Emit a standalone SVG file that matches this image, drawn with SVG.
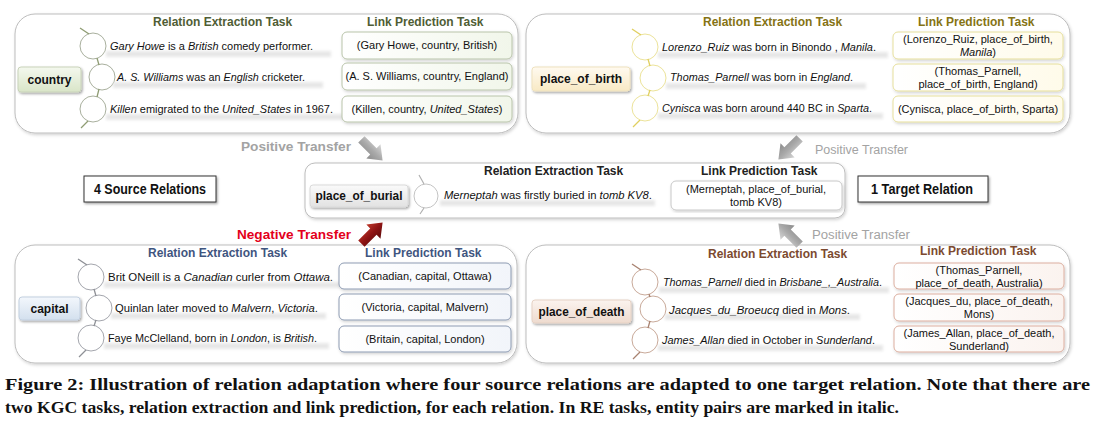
<svg xmlns="http://www.w3.org/2000/svg" width="1099" height="423" viewBox="0 0 1099 423">
<style>
.hd{font-family:"Liberation Sans",Arial,sans-serif;font-weight:bold;font-size:12px}
.s{font-family:"Liberation Sans",Arial,sans-serif;font-size:11px;fill:#111}
.lp{font-family:"Liberation Sans",Arial,sans-serif;font-size:11px;fill:#111;text-anchor:middle}
.nd{font-family:"Liberation Sans",Arial,sans-serif;font-weight:bold;font-size:12px;fill:#111;text-anchor:middle}
.i{font-style:italic}
.panel{fill:#fff;stroke:#bdbdbd;stroke-width:1}
.band{fill:#e4e4e4;opacity:.9}
.big{font-family:"Liberation Sans",Arial,sans-serif;font-weight:bold;font-size:14px;fill:#111;text-anchor:middle}
.cap{font-family:"Liberation Serif","Times New Roman",serif;font-weight:bold;font-size:17.5px;fill:#111}
.pt{font-family:"Liberation Sans",Arial,sans-serif;font-size:12px;fill:#a3a3a3}
</style>
<defs>
<filter id="sh" x="-20%" y="-20%" width="140%" height="160%"><feDropShadow dx="1.2" dy="1.5" stdDeviation="1" flood-color="#000" flood-opacity="0.35"/></filter>
<filter id="psh" x="-5%" y="-5%" width="110%" height="115%"><feDropShadow dx="1" dy="1.5" stdDeviation="1.5" flood-color="#000" flood-opacity="0.18"/></filter>
<filter id="bl" x="-10%" y="-100%" width="120%" height="300%"><feGaussianBlur stdDeviation="1.6"/></filter>
<linearGradient id="gG" x1="0" y1="0" x2="0" y2="1"><stop offset="0" stop-color="#f4f8ee"/><stop offset="1" stop-color="#d9e5c8"/></linearGradient>
<linearGradient id="gY" x1="0" y1="0" x2="0" y2="1"><stop offset="0" stop-color="#fffaf0"/><stop offset="1" stop-color="#f8e9c4"/></linearGradient>
<linearGradient id="gB" x1="0" y1="0" x2="0" y2="1"><stop offset="0" stop-color="#f3f7fc"/><stop offset="1" stop-color="#d3e0ee"/></linearGradient>
<linearGradient id="gR" x1="0" y1="0" x2="0" y2="1"><stop offset="0" stop-color="#fbf3ee"/><stop offset="1" stop-color="#eedbcf"/></linearGradient>
<linearGradient id="gK" x1="0" y1="0" x2="0" y2="1"><stop offset="0" stop-color="#fafafa"/><stop offset="1" stop-color="#e2e2e2"/></linearGradient>
<linearGradient id="lG" x1="0" y1="0" x2="1" y2="0"><stop offset="0" stop-color="#fff"/><stop offset="1" stop-color="#f1f6ea"/></linearGradient>
<linearGradient id="lY" x1="0" y1="0" x2="1" y2="0"><stop offset="0" stop-color="#fff"/><stop offset="1" stop-color="#fffbea"/></linearGradient>
<linearGradient id="lB" x1="0" y1="0" x2="1" y2="0"><stop offset="0" stop-color="#fff"/><stop offset="1" stop-color="#f2f5fa"/></linearGradient>
<linearGradient id="lR" x1="0" y1="0" x2="1" y2="0"><stop offset="0" stop-color="#fff"/><stop offset="1" stop-color="#fbf3ef"/></linearGradient>
<linearGradient id="arG" x1="0" y1="0" x2="0" y2="1"><stop offset="0" stop-color="#d6d6d6"/><stop offset="0.5" stop-color="#a9a9a9"/><stop offset="1" stop-color="#8c8c8c"/></linearGradient>
<linearGradient id="arR" x1="0" y1="0" x2="0" y2="1"><stop offset="0" stop-color="#c0392b"/><stop offset="0.5" stop-color="#8e1414"/><stop offset="1" stop-color="#5e0a0a"/></linearGradient>
<path id="blk" d="M-15,-4.5 L2,-4.5 L2,-10 L15,0 L2,10 L2,4.5 L-15,4.5 Z"/>
</defs>
<rect width="1099" height="423" fill="#fff"/>

<!-- Panels -->
<g id="panel-country">
<rect class="panel" x="15" y="14" width="503" height="119" rx="20" filter="url(#psh)"/>
<text class="hd" x="153" y="26" fill="#4f5d35">Relation Extraction Task</text>
<text class="hd" x="367" y="26" fill="#4f5d35">Link Prediction Task</text>
<g fill="#fff" stroke="#a9b09e" stroke-width="1">
<circle cx="93" cy="46" r="13"/><circle cx="102" cy="77" r="13"/><circle cx="93" cy="109" r="13"/>
</g>
<g stroke="#8f9c73" stroke-width="1.3">
<line x1="80" y1="28" x2="89" y2="34"/><line x1="97" y1="58" x2="99" y2="65"/><line x1="99" y1="89" x2="97" y2="97"/><line x1="88" y1="121" x2="81" y2="128"/>
</g>
<g filter="url(#bl)"><rect class="band" x="106" y="51" width="225" height="6"/><rect class="band" x="113" y="82" width="210" height="6"/><rect class="band" x="106" y="114" width="240" height="6"/></g>
<text class="s" x="110" y="50" textLength="203" lengthAdjust="spacingAndGlyphs"><tspan class="i">Gary Howe</tspan> is a <tspan class="i">British</tspan> comedy performer.</text>
<text class="s" x="117" y="81" textLength="188" lengthAdjust="spacingAndGlyphs"><tspan class="i">A. S. Williams</tspan> was an <tspan class="i">English</tspan> cricketer.</text>
<text class="s" x="110" y="113" textLength="223" lengthAdjust="spacingAndGlyphs"><tspan class="i">Killen</tspan> emigrated to the <tspan class="i">United_States</tspan> in 1967.</text>
<g stroke="#b9c4aa" fill="url(#lG)" filter="url(#psh)">
<rect x="342" y="32" width="170" height="27" rx="5"/><rect x="342" y="63" width="170" height="27" rx="5"/><rect x="342" y="96" width="170" height="26" rx="5"/>
</g>
<text class="lp" x="427" y="49">(Gary Howe, country, British)</text>
<text class="lp" x="427" y="80">(A. S. Williams, country, England)</text>
<text class="lp" x="427" y="113">(Killen, country, <tspan class="i">United_States</tspan>)</text>
</g>

<g id="node-country">
<rect x="18" y="67" width="63" height="25" rx="3" fill="url(#gG)" stroke="#c9d3ba" filter="url(#sh)"/>
<text class="nd" x="49.5" y="84">country</text>
</g>

<g id="panel-birth">
<rect class="panel" x="526" y="14" width="544" height="119" rx="20" filter="url(#psh)"/>
<text class="hd" x="703" y="26" fill="#857314">Relation Extraction Task</text>
<text class="hd" x="918" y="26" fill="#857314">Link Prediction Task</text>
<g fill="#fff" stroke="#ece39a" stroke-width="1">
<circle cx="645" cy="47" r="13"/><circle cx="653" cy="78" r="13"/><circle cx="645" cy="108" r="13"/>
</g>
<g stroke="#e0cf60" stroke-width="1.3">
<line x1="632" y1="29" x2="641" y2="35"/><line x1="648" y1="59" x2="650" y2="66"/><line x1="650" y1="90" x2="648" y2="96"/><line x1="640" y1="120" x2="633" y2="127"/>
</g>
<g filter="url(#bl)"><rect class="band" x="658" y="52" width="230" height="6"/><rect class="band" x="666" y="83" width="200" height="6"/><rect class="band" x="658" y="113" width="225" height="6"/></g>
<text class="s" x="662" y="51" textLength="214" lengthAdjust="spacingAndGlyphs"><tspan class="i">Lorenzo_Ruiz</tspan> was born in Binondo , <tspan class="i">Manila</tspan>.</text>
<text class="s" x="670" y="81" textLength="183" lengthAdjust="spacingAndGlyphs"><tspan class="i">Thomas_Parnell</tspan> was born in <tspan class="i">England</tspan>.</text>
<text class="s" x="662" y="112" textLength="210" lengthAdjust="spacingAndGlyphs"><tspan class="i">Cynisca</tspan> was born around 440 BC in <tspan class="i">Sparta</tspan>.</text>
<g stroke="#e6df9c" fill="url(#lY)" filter="url(#psh)">
<rect x="893" y="32" width="170" height="27" rx="5"/><rect x="893" y="64" width="170" height="27" rx="5"/><rect x="893" y="96" width="170" height="26" rx="5"/>
</g>
<text class="lp" x="978" y="43">(Lorenzo_Ruiz, place_of_birth,</text>
<text class="lp" x="978" y="56"><tspan class="i">Manila</tspan>)</text>
<text class="lp" x="978" y="75">(Thomas_Parnell,</text>
<text class="lp" x="978" y="88">place_of_birth, England)</text>
<text class="lp" x="978" y="113">(Cynisca, place_of_birth, Sparta)</text>
</g>

<g id="node-birth">
<rect x="532" y="67" width="98" height="24" rx="3" fill="url(#gY)" stroke="#efe2bf" filter="url(#sh)"/>
<text class="nd" x="581" y="83" textLength="82" lengthAdjust="spacingAndGlyphs">place_of_birth</text>
</g>

<g id="panel-burial">
<rect class="panel" x="305" y="163" width="540" height="55" rx="10" filter="url(#psh)"/>
<text class="hd" x="484" y="175" fill="#222">Relation Extraction Task</text>
<text class="hd" x="701" y="175" fill="#222">Link Prediction Task</text>
<circle cx="426" cy="196" r="12" fill="#fff" stroke="#c4c4c4"/>
<g stroke="#b0b0b0" stroke-width="1.2"><line x1="419" y1="175" x2="424" y2="184"/><line x1="424" y1="208" x2="420" y2="214"/></g>
<g filter="url(#bl)"><rect class="band" x="440" y="200" width="215" height="6"/></g>
<text class="s" x="444" y="199" textLength="208" lengthAdjust="spacingAndGlyphs"><tspan class="i">Merneptah</tspan> was firstly buried in <tspan class="i">tomb KV8</tspan>.</text>
<rect x="671" y="181" width="171" height="29" rx="5" fill="#fff" stroke="#c8c8c8" filter="url(#psh)"/>
<text class="lp" x="756" y="193">(Merneptah, place_of_burial,</text>
<text class="lp" x="756" y="206">tomb KV8)</text>
</g>

<g id="node-burial">
<rect x="310" y="185" width="98" height="22" rx="3" fill="url(#gK)" stroke="#dadada" filter="url(#sh)"/>
<text class="nd" x="359" y="200" textLength="87" lengthAdjust="spacingAndGlyphs">place_of_burial</text>
</g>

<g id="panel-capital">
<rect class="panel" x="15" y="245" width="502" height="118" rx="20" filter="url(#psh)"/>
<text class="hd" x="148" y="257" fill="#3f557f">Relation Extraction Task</text>
<text class="hd" x="365" y="257" fill="#3f557f">Link Prediction Task</text>
<g fill="#fff" stroke="#a4a6ad" stroke-width="1">
<circle cx="91" cy="277" r="13"/><circle cx="99" cy="308" r="13"/><circle cx="91" cy="338" r="13"/>
</g>
<g stroke="#8e9096" stroke-width="1.3">
<line x1="78" y1="259" x2="87" y2="265"/><line x1="94" y1="289" x2="96" y2="296"/><line x1="96" y1="320" x2="94" y2="326"/><line x1="86" y1="350" x2="79" y2="357"/>
</g>
<g filter="url(#bl)"><rect class="band" x="104" y="282" width="240" height="6"/><rect class="band" x="111" y="313" width="215" height="6"/><rect class="band" x="104" y="343" width="225" height="6"/></g>
<text class="s" x="108" y="281" textLength="225" lengthAdjust="spacingAndGlyphs">Brit ONeill is a <tspan class="i">Canadian</tspan> curler from <tspan class="i">Ottawa</tspan>.</text>
<text class="s" x="115" y="312" textLength="203" lengthAdjust="spacingAndGlyphs">Quinlan later moved to <tspan class="i">Malvern</tspan>, <tspan class="i">Victoria</tspan>.</text>
<text class="s" x="108" y="342" textLength="209" lengthAdjust="spacingAndGlyphs">Faye McClelland, born in <tspan class="i">London</tspan>, is <tspan class="i">British</tspan>.</text>
<g stroke="#8d9bb2" fill="url(#lB)" filter="url(#psh)">
<rect x="339" y="263" width="172" height="26" rx="5"/><rect x="339" y="294" width="172" height="26" rx="5"/><rect x="339" y="326" width="172" height="26" rx="5"/>
</g>
<text class="lp" x="425" y="280">(Canadian, capital, Ottawa)</text>
<text class="lp" x="425" y="311">(Victoria, capital, Malvern)</text>
<text class="lp" x="425" y="343">(Britain, capital, London)</text>
</g>

<g id="node-capital">
<rect x="19" y="297" width="61" height="23" rx="3" fill="url(#gB)" stroke="#c3d0e0" filter="url(#sh)"/>
<text class="nd" x="49.5" y="313">capital</text>
</g>

<g id="panel-death">
<rect class="panel" x="526" y="245" width="544" height="118" rx="20" filter="url(#psh)"/>
<text class="hd" x="708" y="258" fill="#7c4a30">Relation Extraction Task</text>
<text class="hd" x="920" y="255" fill="#7c4a30">Link Prediction Task</text>
<g fill="#fff" stroke="#c9aa9a" stroke-width="1">
<circle cx="645" cy="282" r="13"/><circle cx="653" cy="309" r="13"/><circle cx="645" cy="340" r="13"/>
</g>
<g stroke="#a88270" stroke-width="1.3">
<line x1="632" y1="264" x2="641" y2="270"/><line x1="649" y1="294" x2="650" y2="297"/><line x1="650" y1="321" x2="648" y2="328"/><line x1="640" y1="352" x2="633" y2="359"/>
</g>
<g filter="url(#bl)"><rect class="band" x="659" y="287" width="230" height="6"/><rect class="band" x="665" y="314" width="195" height="6"/><rect class="band" x="658" y="345" width="225" height="6"/></g>
<text class="s" x="663" y="286" textLength="219" lengthAdjust="spacingAndGlyphs"><tspan class="i">Thomas_Parnell</tspan> died in <tspan class="i">Brisbane_,_Australia</tspan>.</text>
<text class="s" x="669" y="314" textLength="181" lengthAdjust="spacingAndGlyphs"><tspan class="i">Jacques_du_Broeucq</tspan> died in <tspan class="i">Mons</tspan>.</text>
<text class="s" x="662" y="344" textLength="213" lengthAdjust="spacingAndGlyphs"><tspan class="i">James_Allan</tspan> died in October in <tspan class="i">Sunderland</tspan>.</text>
<g stroke="#dcae9f" fill="url(#lR)" filter="url(#psh)">
<rect x="894" y="263" width="170" height="26" rx="5"/><rect x="894" y="294" width="170" height="27" rx="5"/><rect x="894" y="326" width="170" height="26" rx="5"/>
</g>
<text class="lp" x="979" y="274">(Thomas_Parnell,</text>
<text class="lp" x="979" y="287">place_of_death, Australia)</text>
<text class="lp" x="979" y="305">(Jacques_du, place_of_death,</text>
<text class="lp" x="979" y="318">Mons)</text>
<text class="lp" x="979" y="337">(James_Allan, place_of_death,</text>
<text class="lp" x="979" y="350">Sunderland)</text>
</g>

<g id="node-death">
<rect x="532" y="300" width="99" height="23" rx="3" fill="url(#gR)" stroke="#e6d2c5" filter="url(#sh)"/>
<text class="nd" x="581.5" y="316" textLength="86" lengthAdjust="spacingAndGlyphs">place_of_death</text>
</g>

<g id="node-source">
<rect x="84" y="176" width="132" height="26" fill="#fff" stroke="#333" filter="url(#sh)"/>
<text class="big" x="150" y="194" textLength="112" lengthAdjust="spacingAndGlyphs">4 Source Relations</text>
</g>
<g id="node-target">
<rect x="858" y="176" width="130" height="26" fill="#fff" stroke="#333" filter="url(#sh)"/>
<text class="big" x="922" y="194" textLength="102" lengthAdjust="spacingAndGlyphs">1 Target Relation</text>
</g>

<!-- Connectors -->
<g id="connectors">
<use href="#blk" transform="translate(372,150) rotate(45)" fill="url(#arG)"/>
<use href="#blk" transform="translate(372,233) rotate(-45)" fill="url(#arR)"/>
<use href="#blk" transform="translate(789,149) rotate(135)" fill="url(#arG)"/>
<use href="#blk" transform="translate(789,234) rotate(-135)" fill="url(#arG)"/>
<text class="pt" x="241" y="151" font-weight="bold" textLength="110" lengthAdjust="spacingAndGlyphs">Positive Transfer</text>
<text class="pt" x="237" y="239" font-weight="bold" fill="#e3001b" style="fill:#e3001b" textLength="114" lengthAdjust="spacingAndGlyphs">Negative Transfer</text>
<text class="pt" x="815" y="154" textLength="93" lengthAdjust="spacingAndGlyphs">Positive Transfer</text>
<text class="pt" x="812" y="239" textLength="98" lengthAdjust="spacingAndGlyphs">Positive Transfer</text>
</g>

<text class="cap" x="5" y="390" textLength="1085" lengthAdjust="spacingAndGlyphs">Figure 2: Illustration of relation adaptation where four source relations are adapted to one target relation. Note that there are</text>
<text class="cap" x="5" y="413" textLength="894" lengthAdjust="spacingAndGlyphs">two KGC tasks, relation extraction and link prediction, for each relation. In RE tasks, entity pairs are marked in italic.</text>
</svg>
